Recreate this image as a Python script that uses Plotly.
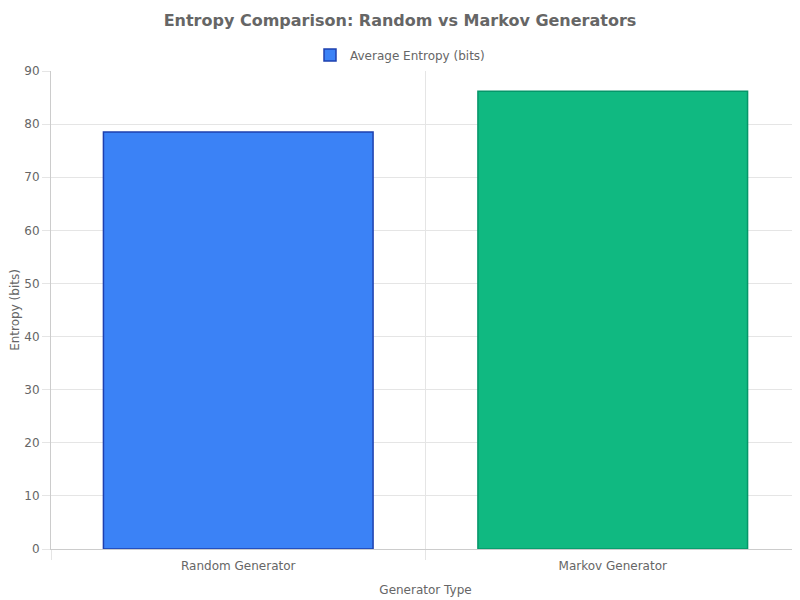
import plotly.graph_objects as go

generators = ["Random Generator", "Markov Generator"]
avg_entropy = [78.5, 86.2]
fill_colors = ["#3b82f6", "#10b981"]
border_colors = ["#1e40af", "#059669"]
y_ticks = [0, 10, 20, 30, 40, 50, 60, 70, 80, 90]

font = "DejaVu Sans, Verdana, sans-serif"
grid = "#e5e5e5"

# the page body adds an 8px margin, so the figure is sized to fit the window
W, H = 792, 592

positions = list(range(len(generators)))

fig = go.Figure()
fig.add_trace(go.Bar(
    x=positions,
    y=avg_entropy,
    name="Average Entropy (bits)",
    marker=dict(color=fill_colors, line=dict(color=border_colors, width=1.5)),
    width=0.72,
    showlegend=True,
))

fig.update_layout(
    width=W, height=H,
    paper_bgcolor="white", plot_bgcolor="white",
    margin=dict(l=43, r=0, t=63, b=51, autoexpand=False),
    font=dict(family=font, size=12, color="#666666"),
    title=dict(
        text="<b>Entropy Comparison: Random vs Markov Generators</b>",
        x=392 / W, xref="container", xanchor="center",
        y=1 - 12 / H, yref="container", yanchor="middle",
        font=dict(size=16, color="#666666", family=font),
    ),
    legend=dict(
        orientation="h",
        x=392 / W, xref="container", xanchor="center",
        y=1 - 47 / H, yref="container", yanchor="middle",
        font=dict(size=12, color="#666666"),
    ),
    showlegend=True,
)

fig.update_xaxes(
    range=[-0.5, len(generators) - 0.5],
    tickvals=positions, ticktext=generators,
    showgrid=False, zeroline=False, automargin=False,
    showline=True, linecolor="#cccccc", linewidth=1,
    ticks="", ticklabelstandoff=6,
    minor=dict(tick0=0.5, dtick=1, showgrid=True, gridcolor=grid,
               ticks="outside", ticklen=10, tickcolor=grid),
    title=dict(text="Generator Type", font=dict(size=12, color="#666666"), standoff=13),
    tickfont=dict(size=12, color="#666666"),
)
fig.update_yaxes(
    range=[0, 90],
    tickvals=y_ticks,
    showgrid=True, gridcolor=grid, gridwidth=1,
    zeroline=False, automargin=False,
    showline=True, linecolor="#cccccc", linewidth=1,
    ticks="outside", ticklen=8, tickcolor=grid,
    title=dict(text="Entropy (bits)", font=dict(size=12, color="#666666"), standoff=8),
    tickfont=dict(size=12, color="#666666"),
)

fig.write_html("out.html")
